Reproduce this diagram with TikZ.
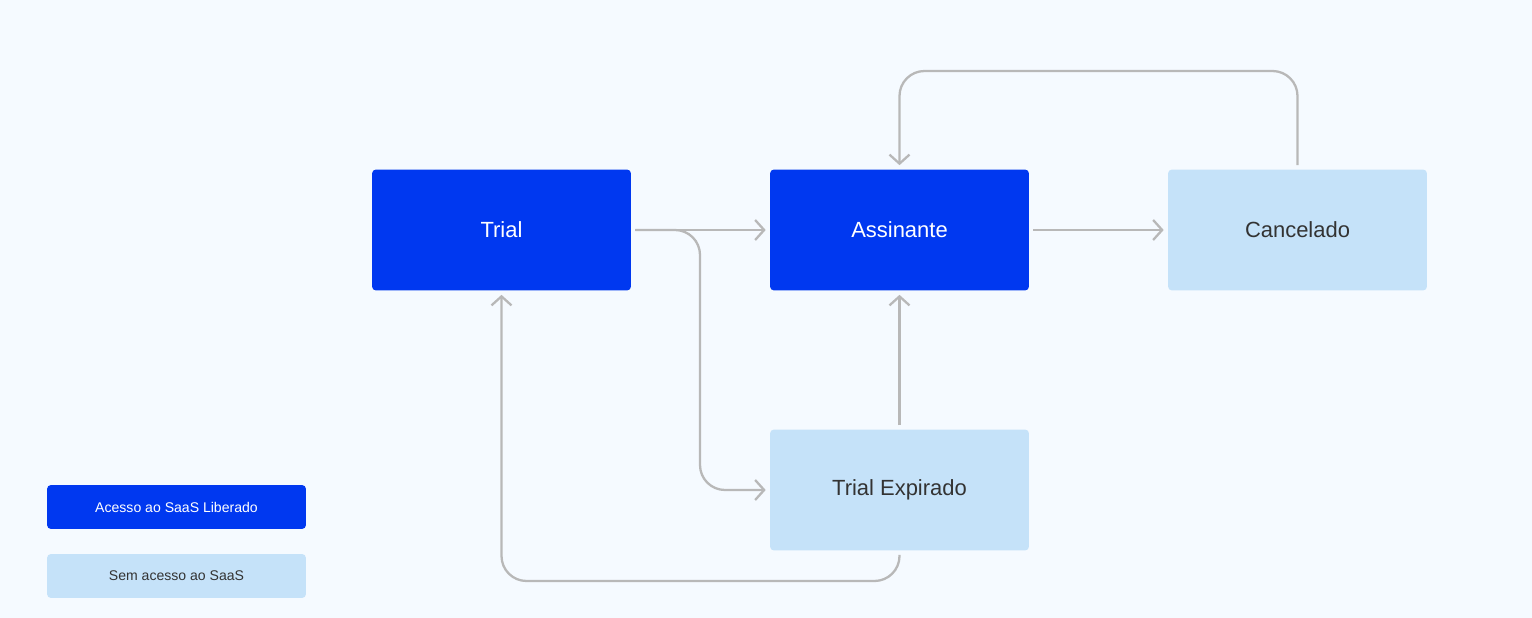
\documentclass[tikz,border=0pt]{standalone}
\usepackage{fontspec}
\setmainfont{Liberation Sans}
\usetikzlibrary{arrows.meta}
\definecolor{bgcol}{HTML}{F5FAFF}
\definecolor{saasblue}{HTML}{0038F0}
\definecolor{saaslight}{HTML}{C5E2F9}
\definecolor{linegray}{HTML}{B8B8B8}
\definecolor{textdark}{HTML}{333333}
\begin{document}
\begin{tikzpicture}[x=0.02cm, y=-0.02cm,
    liberado/.style={fill=saasblue, text=white, rounded corners=0.08cm, inner sep=0pt,
      minimum width=5.18cm, minimum height=2.42cm, font=\fontsize{12.5}{15}\selectfont},
    semacesso/.style={liberado, fill=saaslight, text=textdark},
    legenda/.style={minimum height=0.88cm, font=\fontsize{8}{10}\selectfont},
    flow/.style={draw=linegray, line width=1.3pt, rounded corners=0.5cm,
      shorten >=0.08cm, shorten <=0.08cm, -{Straight Barb[length=0.18cm, width=0.4cm]}}]
    \fill[bgcol] (0,0) rectangle (1532,618); % background

    % states
    \node[liberado] (trial) at (501.5,230) {Trial};
    \node[liberado] (assinante) at (899.5,230) {Assinante};
    \node[semacesso] (cancelado) at (1297.5,230) {Cancelado};
    \node[semacesso] (expirado) at (899.5,490) {Trial Expirado};

    % legend
    \node[liberado, legenda] (legon) at (176.5,507) {Acesso ao SaaS Liberado};
    \node[semacesso, legenda] (legoff) at (176.5,576) {Sem acesso ao SaaS};

    % transitions
    \draw[flow] (trial.east) -- (assinante.west); % trial -> assinante
    \draw[flow] (trial.east) -- (700,230) -- (700,490) -- (expirado.west); % trial expira
    \draw[flow] (assinante.east) -- (cancelado.west); % cancela
    \draw[flow] (cancelado.north) -- (1297.5,71) -- (899.5,71) -- (assinante.north); % reativa
    \draw[flow] (expirado.north) -- (assinante.south); % assina depois de expirar
    \draw[flow] (expirado.south) -- (899.5,581) -- (501.5,581) -- (trial.south); % novo trial
\end{tikzpicture}
\end{document}
